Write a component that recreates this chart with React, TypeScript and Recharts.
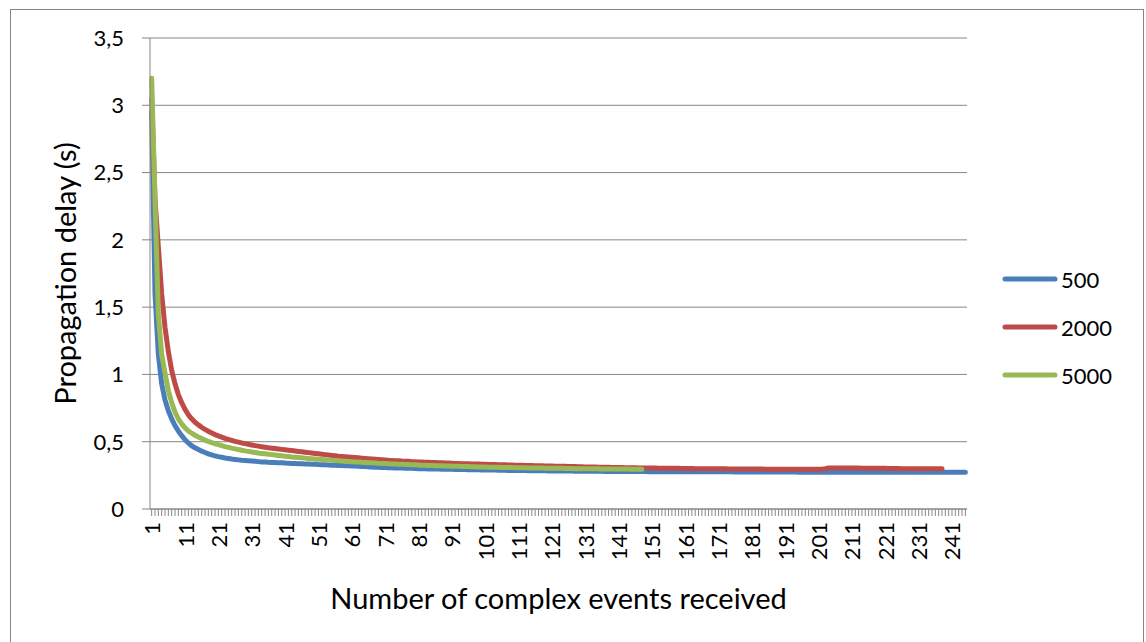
import React from 'react';
import { LineChart, Line, XAxis, YAxis, CartesianGrid, Legend, Label } from 'recharts';

const FONT = 'Lato, "Open Sans", sans-serif';
const GREY = '#868686';

// Propagation delay (s) of each received complex event, one list per rate
const delay500: number[] = [
  2.95, 1.6, 1.15, 0.93, 0.81, 0.73, 0.67, 0.62, 0.58, 0.545,
  0.515, 0.49, 0.47, 0.455, 0.442, 0.43, 0.42, 0.41, 0.402, 0.395,
  0.389, 0.384, 0.379, 0.375, 0.371, 0.368, 0.365, 0.362, 0.36, 0.358,
  0.356, 0.354, 0.352, 0.35, 0.349, 0.347, 0.346, 0.345, 0.344, 0.343,
  0.341, 0.34, 0.339, 0.338, 0.337, 0.336, 0.335, 0.334, 0.333, 0.332,
  0.33, 0.329, 0.328, 0.327, 0.326, 0.325, 0.324, 0.323, 0.322, 0.321,
  0.32, 0.319, 0.317, 0.316, 0.315, 0.313, 0.312, 0.311, 0.31, 0.309,
  0.308, 0.307, 0.306, 0.305, 0.305, 0.304, 0.303, 0.302, 0.302, 0.301,
  0.3, 0.3, 0.299, 0.298, 0.298, 0.297, 0.297, 0.296, 0.296, 0.295,
  0.295, 0.294, 0.294, 0.293, 0.293, 0.292, 0.292, 0.291, 0.291, 0.29,
  0.29, 0.29, 0.289, 0.289, 0.288, 0.288, 0.288, 0.287, 0.287, 0.287,
  0.286, 0.286, 0.286, 0.285, 0.285, 0.285, 0.284, 0.284, 0.284, 0.283,
  0.283, 0.283, 0.283, 0.282, 0.282, 0.282, 0.282, 0.281, 0.281, 0.281,
  0.281, 0.28, 0.28, 0.28, 0.28, 0.28, 0.279, 0.279, 0.279, 0.279,
  0.279, 0.279, 0.278, 0.278, 0.278, 0.278, 0.278, 0.278, 0.278, 0.277,
  0.277, 0.277, 0.277, 0.277, 0.277, 0.277, 0.277, 0.277, 0.276, 0.276,
  0.276, 0.276, 0.276, 0.276, 0.276, 0.276, 0.276, 0.276, 0.276, 0.276,
  0.276, 0.276, 0.276, 0.276, 0.276, 0.275, 0.275, 0.275, 0.275, 0.275,
  0.275, 0.275, 0.275, 0.275, 0.275, 0.275, 0.275, 0.275, 0.275, 0.275,
  0.275, 0.275, 0.275, 0.275, 0.274, 0.274, 0.274, 0.274, 0.274, 0.274,
  0.274, 0.274, 0.274, 0.274, 0.274, 0.274, 0.274, 0.274, 0.274, 0.274,
  0.274, 0.274, 0.274, 0.274, 0.274, 0.273, 0.273, 0.273, 0.273, 0.273,
  0.273, 0.273, 0.273, 0.273, 0.273, 0.273, 0.273, 0.273, 0.273, 0.273,
  0.273, 0.273, 0.273, 0.273, 0.273, 0.273, 0.273, 0.273, 0.273, 0.273,
  0.273, 0.273, 0.273, 0.273, 0.273,
];

const delay2000: number[] = [
  3.05, 2.3, 1.95, 1.6, 1.35, 1.17, 1.03, 0.93, 0.85, 0.79,
  0.74, 0.7, 0.67, 0.645, 0.625, 0.607, 0.592, 0.578, 0.565, 0.553,
  0.543, 0.534, 0.525, 0.517, 0.51, 0.503, 0.497, 0.491, 0.486, 0.481,
  0.476, 0.471, 0.467, 0.463, 0.459, 0.455, 0.452, 0.449, 0.446, 0.443,
  0.44, 0.437, 0.434, 0.431, 0.428, 0.425, 0.422, 0.419, 0.416, 0.413,
  0.41, 0.407, 0.404, 0.401, 0.398, 0.395, 0.392, 0.39, 0.388, 0.386,
  0.384, 0.382, 0.38, 0.378, 0.376, 0.374, 0.372, 0.37, 0.368, 0.366,
  0.364, 0.362, 0.361, 0.359, 0.358, 0.356, 0.355, 0.354, 0.352, 0.351,
  0.35, 0.349, 0.348, 0.347, 0.346, 0.345, 0.344, 0.343, 0.342, 0.341,
  0.34, 0.339, 0.338, 0.337, 0.337, 0.336, 0.335, 0.334, 0.334, 0.333,
  0.332, 0.331, 0.331, 0.33, 0.329, 0.329, 0.328, 0.327, 0.327, 0.326,
  0.325, 0.325, 0.324, 0.323, 0.323, 0.322, 0.321, 0.321, 0.32, 0.32,
  0.319, 0.318, 0.318, 0.317, 0.317, 0.316, 0.315, 0.315, 0.314, 0.314,
  0.313, 0.313, 0.312, 0.312, 0.311, 0.311, 0.31, 0.31, 0.309, 0.309,
  0.308, 0.308, 0.307, 0.307, 0.306, 0.306, 0.305, 0.305, 0.305, 0.304,
  0.304, 0.304, 0.303, 0.303, 0.303, 0.302, 0.302, 0.302, 0.302, 0.301,
  0.301, 0.301, 0.301, 0.3, 0.3, 0.3, 0.3, 0.3, 0.299, 0.299,
  0.299, 0.299, 0.299, 0.298, 0.298, 0.298, 0.298, 0.298, 0.297, 0.297,
  0.297, 0.297, 0.297, 0.297, 0.296, 0.296, 0.296, 0.296, 0.296, 0.296,
  0.296, 0.296, 0.296, 0.296, 0.296, 0.296, 0.296, 0.296, 0.296, 0.296,
  0.296, 0.296, 0.3, 0.305, 0.305, 0.305, 0.305, 0.305, 0.304, 0.304,
  0.304, 0.304, 0.304, 0.303, 0.303, 0.303, 0.303, 0.302, 0.302, 0.302,
  0.302, 0.301, 0.301, 0.301, 0.301, 0.3, 0.3, 0.3, 0.3, 0.3,
  0.299, 0.299, 0.299, 0.299, 0.299, 0.299, 0.299, 0.299,
];

const delay5000: number[] = [
  3.2, 2.3, 1.45, 1.15, 1.01, 0.88, 0.79, 0.72, 0.67, 0.632,
  0.603, 0.58, 0.563, 0.548, 0.535, 0.523, 0.512, 0.502, 0.493, 0.485,
  0.478, 0.471, 0.464, 0.458, 0.452, 0.447, 0.442, 0.437, 0.432, 0.428,
  0.424, 0.42, 0.416, 0.413, 0.41, 0.407, 0.404, 0.401, 0.398, 0.395,
  0.392, 0.39, 0.387, 0.385, 0.383, 0.38, 0.378, 0.376, 0.374, 0.372,
  0.37, 0.368, 0.366, 0.364, 0.362, 0.36, 0.358, 0.357, 0.355, 0.353,
  0.352, 0.35, 0.349, 0.347, 0.346, 0.344, 0.343, 0.342, 0.34, 0.339,
  0.338, 0.337, 0.335, 0.334, 0.333, 0.332, 0.331, 0.33, 0.329, 0.328,
  0.327, 0.326, 0.325, 0.324, 0.323, 0.322, 0.322, 0.321, 0.32, 0.319,
  0.318, 0.318, 0.317, 0.316, 0.316, 0.315, 0.314, 0.314, 0.313, 0.312,
  0.312, 0.311, 0.311, 0.31, 0.31, 0.309, 0.309, 0.308, 0.308, 0.307,
  0.307, 0.306, 0.306, 0.305, 0.305, 0.305, 0.304, 0.304, 0.303, 0.303,
  0.303, 0.302, 0.302, 0.302, 0.301, 0.301, 0.301, 0.3, 0.3, 0.3,
  0.3, 0.299, 0.299, 0.299, 0.299, 0.298, 0.298, 0.298, 0.298, 0.297,
  0.297, 0.297, 0.297, 0.297, 0.296, 0.296, 0.296, 0.296,
];

const seriesKeys = ['s500', 's2000', 's5000'];
const seriesNames = ['500', '2000', '5000'];
const seriesColors = ['#4A7EBB', '#BE4B48', '#98B954'];
const yTicks = [0, 0.5, 1, 1.5, 2, 2.5, 3, 3.5];

// x categories are the event numbers 1..N
const events = delay500.map((_, i) => i + 1);

const rows = events.map((n, i) => ({
  event: n,
  s500: delay500[i] ?? null,
  s2000: delay2000[i] ?? null,
  s5000: delay5000[i] ?? null,
}));

// every category gets a tick mark, only every tenth one a label
const EventTick = (props: any) => {
  const { x, y, payload, index } = props;
  if (index % 10 !== 0) return <g />;
  return (
    <text
      x={x}
      y={y}
      transform={`rotate(-90 ${x} ${y})`}
      textAnchor="end"
      dominantBaseline="central"
      fontFamily={FONT}
      fontSize={22}
      fill="#000"
    >
      {payload.value}
    </text>
  );
};

const YTitle = ({ viewBox }: any) => {
  const cx = 64;
  const cy = viewBox.y + viewBox.height / 2;
  return (
    <text x={cx} y={cy} transform={`rotate(-90 ${cx} ${cy})`} textAnchor="middle"
      dominantBaseline="central" fontFamily={FONT} fontSize={29} fill="#000">
      Propagation delay (s)
    </text>
  );
};

const XTitle = ({ viewBox }: any) => (
  <text x={viewBox.x + viewBox.width / 2} y={597} textAnchor="middle"
    dominantBaseline="central" fontFamily={FONT} fontSize={29} fill="#000">
    Number of complex events received
  </text>
);

const LegendBox = () => (
  <div style={{ fontFamily: FONT, fontSize: 22, color: '#000' }}>
    {seriesNames.map((name, i) => (
      <div key={name} style={{ display: 'flex', alignItems: 'center', height: 48 }}>
        <svg width={58} height={10}>
          <line x1={4} y1={5} x2={54} y2={5} stroke={seriesColors[i]} strokeWidth={5} strokeLinecap="round" />
        </svg>
        <span style={{ marginLeft: 2 }}>{name}</span>
      </div>
    ))}
  </div>
);

export default function App() {
  return (
    <div style={{ position: 'relative', width: 1146, height: 642, overflow: 'hidden', background: '#fff' }}>
      <style>{'body{margin:0}'}</style>
      <div style={{ position: 'absolute', left: 10, top: 9, width: 1132, height: 700, border: `1px solid ${GREY}` }} />
      <LineChart width={1146} height={642} data={rows} margin={{ top: 38, right: 179, bottom: 0, left: 0 }}>
        <CartesianGrid horizontal vertical={false} stroke={GREY} strokeWidth={1} />
        <XAxis
          dataKey="event"
          type="category"
          scale="band"
          interval={0}
          height={133}
          tickSize={7}
          tickMargin={6}
          tick={<EventTick />}
          axisLine={{ stroke: GREY }}
          tickLine={{ stroke: GREY }}
        >
          <Label content={(p: any) => <XTitle {...p} />} />
        </XAxis>
        <YAxis
          width={150}
          domain={[0, 3.5]}
          ticks={yTicks}
          interval={0}
          tickSize={8}
          tickMargin={18}
          tickFormatter={(v: number) => String(v).replace('.', ',')}
          tick={{ fontFamily: FONT, fontSize: 22, fill: '#000' }}
          axisLine={{ stroke: GREY }}
          tickLine={{ stroke: GREY }}
        >
          <Label content={(p: any) => <YTitle {...p} />} />
        </YAxis>
        <Legend
          layout="vertical"
          align="center"
          verticalAlign="middle"
          wrapperStyle={{ left: 1001, top: 255, width: 140 }}
          content={() => <LegendBox />}
        />
        {seriesKeys.map((key, i) => (
          <Line
            key={key}
            dataKey={key}
            name={seriesNames[i]}
            type="linear"
            stroke={seriesColors[i]}
            strokeWidth={5}
            strokeLinecap="round"
            strokeLinejoin="round"
            dot={false}
            activeDot={false}
            isAnimationActive={false}
          />
        ))}
      </LineChart>
    </div>
  );
}
